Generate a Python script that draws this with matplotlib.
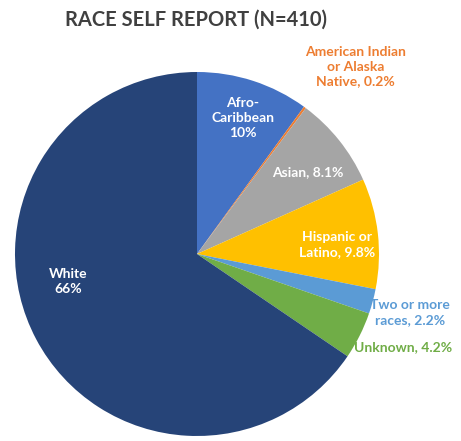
import matplotlib.pyplot as plt

plt.rcParams['font.family'] = ['Lato', 'DejaVu Sans']

groups = ['Afro-Caribbean', 'American Indian or Alaska Native', 'Asian',
          'Hispanic or Latino', 'Two or more races', 'Unknown', 'White']
shares = [10.0, 0.2, 8.1, 9.8, 2.2, 4.2, 65.5]
labels = ['Afro-\nCaribbean\n10%', 'American Indian\nor Alaska\nNative, 0.2%',
          'Asian, 8.1%', 'Hispanic or\nLatino, 9.8%', 'Two or more\nraces, 2.2%',
          'Unknown, 4.2%', 'White\n66%']
colors = ['#4472C4', '#ED7D31', '#A5A5A5', '#FFC000', '#5B9BD5', '#70AD47', '#264478']
# label position in pie units (radius 1), and text colour
label_pos = [(0.25, 0.75), (0.87, 1.03), (0.61, 0.45), (0.77, 0.05),
             (1.17, -0.32), (1.13, -0.51), (-0.71, -0.15)]
label_col = ['white', '#ED7D31', 'white', 'white', '#5B9BD5', '#70AD47', 'white']

fig = plt.figure(figsize=(4.61, 4.41), dpi=100)
ax = fig.add_axes([15 / 461, 5 / 441, 364 / 461, 364 / 441])

ax.pie(shares, colors=colors, startangle=90, counterclock=False, radius=1,
       wedgeprops=dict(linewidth=0))

for lab, (x, y), c in zip(labels, label_pos, label_col):
    ax.text(x, y, lab, color=c, ha='center', va='center', fontsize=10,
            fontweight='bold', linespacing=1.3)

ax.set_xlim(-1, 1)
ax.set_ylim(-1, 1)
ax.set_aspect('equal')
ax.axis('off')

fig.text(196 / 461, 1 - 20 / 441, 'RACE SELF REPORT (N=410)', ha='center', va='center',
         fontsize=14.5, fontweight='bold', color='#404040')

fig.savefig('out.png', dpi=100)
